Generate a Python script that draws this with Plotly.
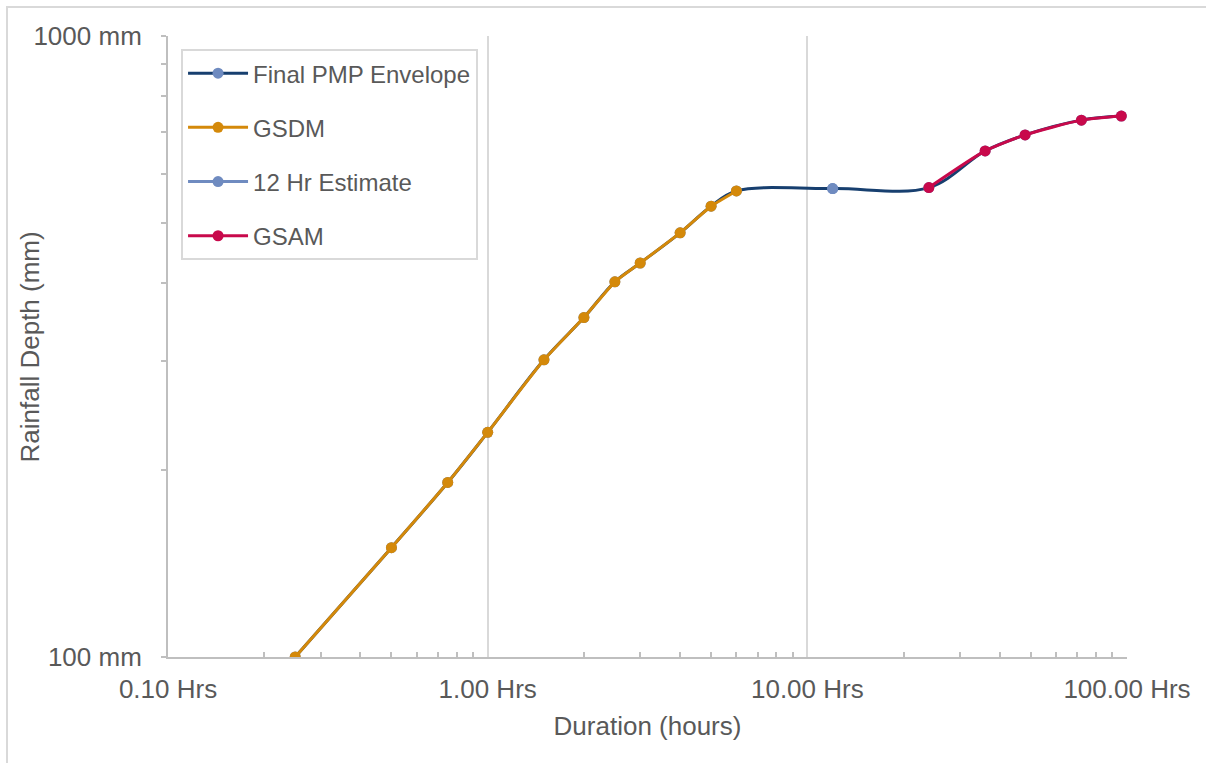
import plotly.graph_objects as go

# ---- data ----
gsdm_hours = [0.25, 0.5, 0.75, 1, 1.5, 2, 2.5, 3, 4, 5, 6]
gsdm_depth = [100, 150, 191, 230, 301, 352, 402, 431, 482, 532, 563]

est12_hours = [12]
est12_depth = [568]

gsam_hours = [24, 36, 48, 72, 96]
gsam_depth = [570, 653, 693, 732, 743]

env_hours = gsdm_hours + est12_hours + gsam_hours
env_depth = gsdm_depth + est12_depth + gsam_depth

x_tickvals = [0.1, 1, 10, 100]
x_ticktext = ["0.10 Hrs", "1.00 Hrs", "10.00 Hrs", "100.00 Hrs"]
y_tickvals = [100, 1000]
y_ticktext = ["100 mm", "1000 mm"]

x_minor = [m * d for d in (0.1, 1, 10) for m in range(2, 10)]
y_minor = [m * 100 for m in range(2, 10)]

# ---- styling ----
FONT = "Liberation Sans, Arial, sans-serif"
TXT = "#595959"
GRID = "#d9d9d9"
AXIS = "#bfbfbf"

C_ENV = "#173f6f"
C_ENV_MK = "#6f8bc0"
C_GSDM = "#d4890a"
C_12 = "#6f8bc0"
C_GSAM = "#c8094b"

MS = 11
LW = 3

fig = go.Figure()

fig.add_trace(go.Scatter(
    x=env_hours, y=env_depth, name="Final PMP Envelope", legendgroup="a",
    mode="lines+markers", line=dict(color=C_ENV, width=LW, shape="spline", smoothing=1),
    marker=dict(color=C_ENV_MK, size=MS)))
fig.add_trace(go.Scatter(
    x=gsdm_hours, y=gsdm_depth, name="GSDM", legendgroup="b",
    mode="lines+markers", line=dict(color=C_GSDM, width=LW, shape="spline", smoothing=0.5),
    marker=dict(color=C_GSDM, size=MS)))
fig.add_trace(go.Scatter(
    x=est12_hours, y=est12_depth, name="12 Hr Estimate", legendgroup="c",
    mode="lines+markers", line=dict(color=C_12, width=LW),
    marker=dict(color=C_12, size=MS)))
fig.add_trace(go.Scatter(
    x=gsam_hours, y=gsam_depth, name="GSAM", legendgroup="d",
    mode="lines+markers", line=dict(color=C_GSAM, width=LW, shape="spline", smoothing=0.6),
    marker=dict(color=C_GSAM, size=MS)))

fig.update_layout(
    width=1206, height=763,
    margin=dict(l=168, r=79, t=36, b=106),
    paper_bgcolor="white", plot_bgcolor="white",
    font=dict(family=FONT, color=TXT, size=26),
    showlegend=True,
    legend=dict(
        x=0.0136, y=0.979, xanchor="left", yanchor="top",
        bgcolor="white", bordercolor=GRID, borderwidth=2,
        font=dict(size=24, color=TXT, family=FONT),
        tracegroupgap=20, itemwidth=60,
    ),
    xaxis=dict(
        type="log", range=[-1, 2],
        tickmode="array", tickvals=x_tickvals, ticktext=x_ticktext,
        showgrid=True, gridcolor=GRID, gridwidth=1.5,
        showline=True, linecolor=AXIS, linewidth=2,
        ticks="", ticklabelstandoff=8,
        tickfont=dict(size=26, color=TXT),
        minor=dict(tickmode="array", tickvals=x_minor, ticks="inside",
                   ticklen=5, tickcolor=AXIS, tickwidth=1.5, showgrid=False),
        title=dict(text="Duration (hours)", font=dict(size=26, color=TXT), standoff=14),
        zeroline=False,
    ),
    yaxis=dict(
        type="log", range=[2, 3],
        tickmode="array", tickvals=y_tickvals, ticktext=y_ticktext,
        showgrid=True, gridcolor=GRID, gridwidth=1.5,
        showline=True, linecolor=AXIS, linewidth=2,
        ticks="outside", ticklen=5, tickcolor=AXIS, tickwidth=1.5,
        ticklabelstandoff=14,
        tickfont=dict(size=26, color=TXT),
        minor=dict(tickmode="array", tickvals=y_minor, ticks="outside",
                   ticklen=5, tickcolor=AXIS, tickwidth=1.5, showgrid=False),
        zeroline=False,
    ),
    annotations=[dict(
        text="Rainfall Depth (mm)", textangle=-90,
        xref="paper", yref="paper", x=-0.1439, y=0.5,
        xanchor="center", yanchor="middle", showarrow=False,
        font=dict(size=26, color=TXT, family=FONT),
    )],
    shapes=[dict(
        type="rect", xref="paper", yref="paper",
        x0=-0.1679, x1=1.2, y0=-0.3, y1=1.0467,
        line=dict(color=GRID, width=2), layer="below",
    )],
)

fig.write_html("out.html", config={"displayModeBar": False},
               post_script="document.body.style.margin='0';")
